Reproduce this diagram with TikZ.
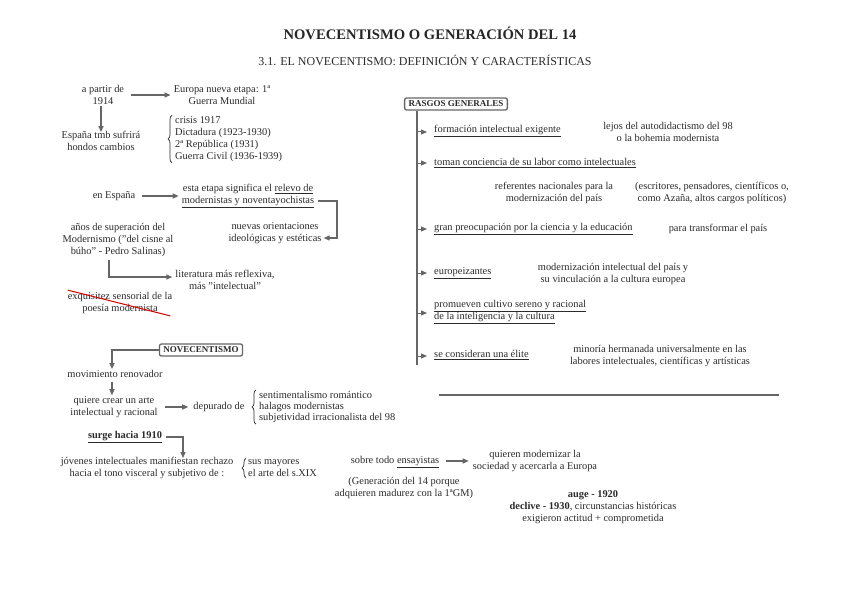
\documentclass[tikz,border=0pt]{standalone}
\usepackage{fontspec}
\setmainfont{Liberation Serif}
\usetikzlibrary{arrows.meta,decorations.pathreplacing}
\definecolor{txt}{HTML}{2B2B2B}
\definecolor{ln}{HTML}{666666}
\tikzset{
  t/.style={text=txt,font=\fontsize{10.4}{12}\selectfont,align=center,inner sep=1pt},
  tl/.style={t,align=left},
  box/.style={t,draw=ln,line width=1.3pt,rounded corners=2pt,font=\fontsize{9}{10}\selectfont\bfseries,inner xsep=4pt,inner ysep=3pt},
  arr/.style={draw=ln,line width=1.3pt,-{Triangle[length=6pt,width=5pt]}},
  conn/.style={draw=ln,line width=1.3pt},
  br/.style={draw=txt,line width=0.7pt,decorate,decoration={brace,amplitude=4pt}},
  mk/.style={draw=ln,line width=1pt,-{Triangle[length=6pt,width=5pt]}}
}
\begin{document}
\begin{tikzpicture}[x=1pt,y=-1pt]
\useasboundingbox (0,0) rectangle (848,599);
\fill[white] (0,0) rectangle (848,599);
% titles
\node[t,font=\fontsize{14.6}{16}\selectfont\bfseries,text=black!85] (title) at (430,33) {NOVECENTISMO O GENERACIÓN DEL 14};
\node[t,font=\fontsize{12}{14}\selectfont] (sub) at (425,60) {3.1. EL NOVECENTISMO: DEFINICIÓN Y CARACTERÍSTICAS};
% top left block
\node[t] (apartir) at (103,95) {a partir de\\1914};
\node[t] (europa) at (222,95) {Europa nueva etapa: 1ª\\Guerra Mundial};
\draw[arr] ([xshift=6pt]apartir.east) -- ([xshift=-2pt]europa.west);
\node[t] (espana) at (101,141) {España tmb sufrirá\\hondos cambios};
\draw[arr] ([xshift=-2pt]apartir.south) -- ([xshift=0pt,yshift=-2pt]espana.north);
\node[tl,anchor=west] (crisis) at (174,139) {crisis 1917\\Dictadura (1923-1930)\\2ª República (1931)\\Guerra Civil (1936-1939)};
\draw[br] ([xshift=-2pt]crisis.south west) -- ([xshift=-2pt]crisis.north west);
% en España
\node[t] (enesp) at (114,196) {en España};
\node[t] (etapa) at (248,196) {esta etapa significa el \underline{relevo de}\\\underline{modernistas y noventayochistas}};
\draw[arr] ([xshift=6pt]enesp.east) -- ([xshift=-2pt]etapa.west);
\node[t] (nuevas) at (275,233) {nuevas orientaciones\\ideológicas y estéticas};
\coordinate (cturn) at (337,201);
\draw[arr] ([xshift=3pt,yshift=-5pt]etapa.east) -| (cturn) |- ([yshift=-5pt,xshift=1pt]nuevas.east);
\node[t] (anos) at (118,240) {años de superación del\\Modernismo ("del cisne al\\búho" - Pedro Salinas)};
\node[t] (lit) at (225,280) {literatura más reflexiva,\\más "intelectual"};
\draw[arr] ([xshift=-9pt,yshift=-2pt]anos.south) |- ([yshift=3pt,xshift=-2pt]lit.west);
\node[t] (exq) at (120,303) {exquisitez sensorial de la\\poesía modernista};
\draw[red!85!black,line width=1pt] ([xshift=1pt,yshift=1pt]exq.north west) -- ([xshift=-3pt,yshift=-1pt]exq.south east);
% NOVECENTISMO
\node[box] (novbox) at (201,350) {NOVECENTISMO};
\node[t] (mov) at (115,374) {movimiento renovador};
\draw[arr] (novbox.west) -| ([xshift=-3pt]mov.north);
\node[t] (quiere) at (114,407) {quiere crear un arte\\intelectual y racional};
\draw[arr] ([xshift=-3pt,yshift=-3pt]mov.south) -- ([xshift=-2pt]quiere.north);
\node[t] (depur) at (219,407) {depurado de};
\draw[arr] ([xshift=6pt]quiere.east) -- ([xshift=-4pt]depur.west);
\node[tl,anchor=west,font=\fontsize{10.4}{11.3}\selectfont] (senti) at (258,407) {sentimentalismo romántico\\halagos modernistas\\subjetividad irracionalista del 98};
\draw[br] ([xshift=-2pt]senti.south west) -- ([xshift=-2pt]senti.north west);
\node[t,font=\fontsize{10.4}{12}\selectfont\bfseries] (surge) at (125,437) {\underline{surge hacia 1910}};
\node[t] (jov) at (147,468) {jóvenes intelectuales manifiestan rechazo\\hacia el tono visceral y subjetivo de :};
\draw[arr] ([xshift=3pt]surge.east) -| ([xshift=36pt,yshift=-2pt]jov.north);
\node[tl,anchor=west] (sus) at (247,468) {sus mayores\\el arte del s.XIX};
\draw[br] ([xshift=-1pt]sus.south west) -- ([xshift=-1pt]sus.north west);
\node[t] (sobre) at (395,462) {sobre todo \underline{ensayistas}};
\node[t] (quieren) at (535,461) {quieren modernizar la\\sociedad y acercarla a Europa};
\draw[arr] ([xshift=6pt,yshift=1pt]sobre.east) -- ([xshift=-3pt,yshift=1pt]sobre.east -| quieren.west);
\node[t] (gen) at (404,488) {(Generación del 14 porque\\adquieren madurez con la 1ªGM)};
\node[t] (auge) at (593,507) {\textbf{auge -  1920}\\\textbf{declive - 1930}, circunstancias históricas\\exigieron actitud + comprometida};
% right side
\node[box] (rasgos) at (456,104) {RASGOS GENERALES};
\coordinate (vend) at (417,365);
\draw[conn] (rasgos.south -| vend) -- (vend);
\foreach \y in {132,163,229,273,313,356}{
  \draw[mk] (417,\y) -- (427,\y);
}
\node[tl,anchor=west] (r1) at (433,131) {\underline{formación intelectual exigente}};
\node[t] (r1b) at (668,132) {lejos del autodidactismo del 98\\o la bohemia modernista};
\node[tl,anchor=west] (r2) at (433,163) {\underline{toman conciencia de su labor como intelectuales}};
\node[t] (r2b) at (554,193) {referentes nacionales para la\\modernización del país};
\node[t] (r2c) at (712,193) {(escritores, pensadores, científicos o,\\como Azaña, altos cargos políticos)};
\node[tl,anchor=west] (r3) at (433,229) {\underline{gran preocupación por la ciencia y la educación}};
\node[t] (r3b) at (718,229) {para transformar el país};
\node[tl,anchor=west] (r4) at (433,273) {\underline{europeizantes}};
\node[t] (r4b) at (613,274) {modernización intelectual del país y\\su vinculación a la cultura europea};
\node[tl,anchor=west] (r5) at (433,312) {\underline{promueven cultivo sereno y racional}\\\underline{de la inteligencia y la cultura}};
\node[tl,anchor=west] (r6) at (433,355) {\underline{se consideran una élite}};
\node[t] (r6b) at (660,356) {minoría hermanada universalmente en las\\labores intelectuales, científicas y artísticas};
\coordinate (hl1) at (439,395);
\coordinate (hl2) at (779,395);
\draw[conn,line width=1.6pt] (hl1) -- (hl2);
\end{tikzpicture}
\end{document}
